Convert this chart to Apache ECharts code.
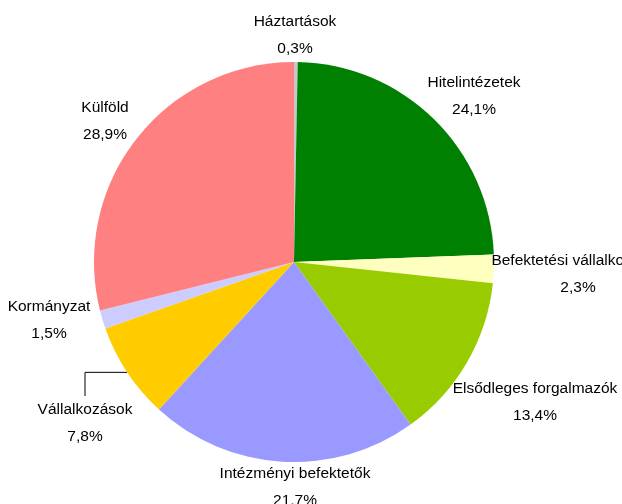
<!DOCTYPE html>
<html><head><meta charset="utf-8">
<script src="https://cdn.jsdelivr.net/npm/echarts@6/dist/echarts.min.js"></script>
<style>html,body{margin:0;padding:0;background:#fff}#c{width:622px;height:504px}</style>
</head><body><div id="c"></div>
<script>
const categories = ['Háztartások','Hitelintézetek','Befektetési vállalkozások','Elsődleges forgalmazók','Intézményi befektetők','Vállalkozások','Kormányzat','Külföld'];
const values = [0.3, 24.1, 2.3, 13.4, 21.7, 7.8, 1.5, 28.9];
const colors = ['#C8C8C8','#008000','#FFFFC0','#99CC00','#9999FF','#FFCC00','#CCCCFF','#FF8080'];
// label centre offsets from pie centre (layout only)
const labelOffsets = [[1,-227],[180,-166],[284,12],[241,140],[1,225],[-209,161],[-245,58],[-189,-141]];
const CX = 294, CY = 262, R = 200;
const chart = echarts.init(document.getElementById('c'), null, {renderer:'canvas'});
chart.setOption({
  animation:false,
  series:[{
    type:'pie',
    center:[CX,CY],
    radius:[0,R],
    startAngle:90,
    clockwise:true,
    avoidLabelOverlap:false,
    itemStyle:{borderWidth:0},
    label:{
      show:true,
      position:'outside',
      formatter: p => p.name + '\n' + p.value.toFixed(1).replace('.', ',') + '%',
      fontFamily:'Liberation Sans, Arial, sans-serif',
      fontSize:15.5,
      lineHeight:27,
      color:'#000',
      align:'center'
    },
    labelLine:{show:false},
    labelLayout: function(params){
      const o = labelOffsets[params.dataIndex];
      return {x: CX + o[0], y: CY + o[1], align:'center', verticalAlign:'middle'};
    },
    data: categories.map((n,i)=>({
      name:n, value:values[i], itemStyle:{color:colors[i]},
      labelLine: i===5 ? {show:true, length:10, length2:30, lineStyle:{color:'#000', width:1}} : {show:false}
    }))
  }]
});
</script></body></html>
